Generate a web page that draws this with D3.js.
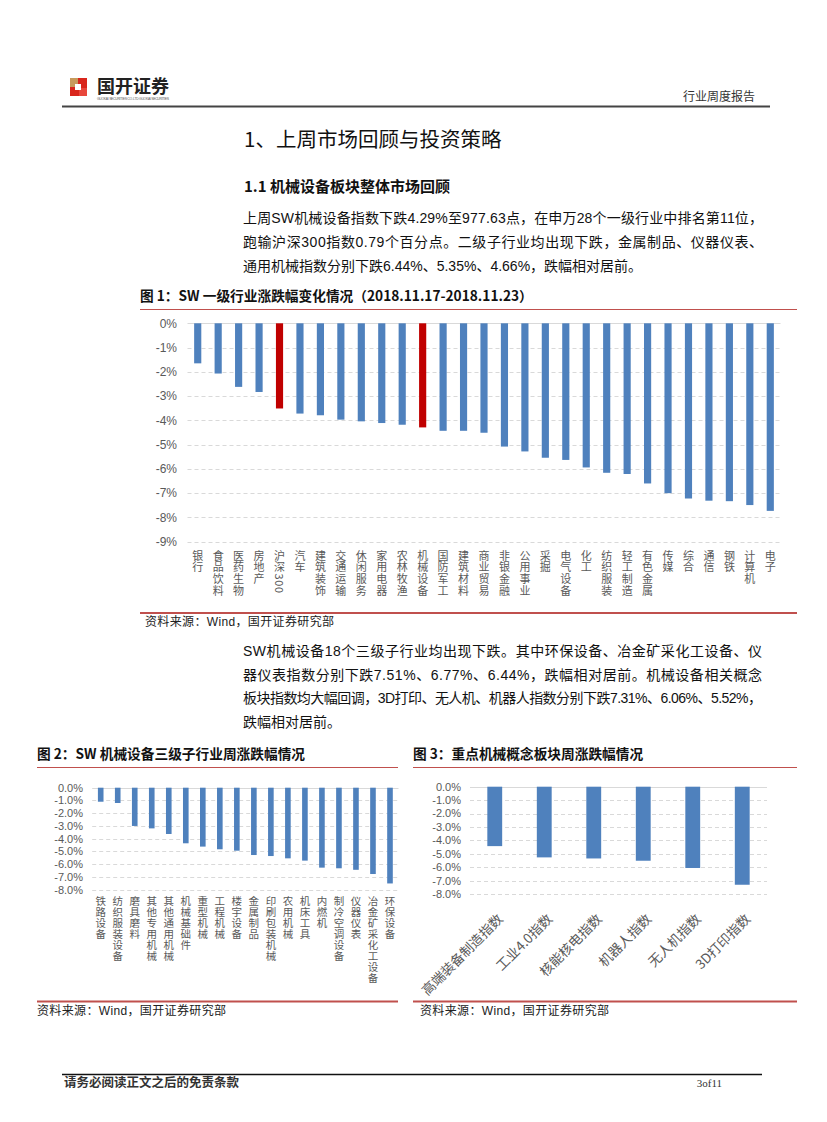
<!DOCTYPE html>
<html><head><meta charset="utf-8">
<script src="https://cdn.jsdelivr.net/npm/d3@7/dist/d3.min.js"></script>
<style>
body{margin:0;background:#fff;}
svg{display:block;}
</style></head>
<body>
<svg id="page" width="827" height="1122"></svg>
<script>
// ---- data ----
const cats1 = ["银行","食品饮料","医药生物","房地产","沪深300","汽车","建筑装饰","交通运输","休闲服务","家用电器","农林牧渔","机械设备","国防军工","建筑材料","商业贸易","非银金融","公用事业","采掘","电气设备","化工","纺织服装","轻工制造","有色金属","传媒","综合","通信","钢铁","计算机","电子"];
const vals1 = [-1.65,-2.07,-2.62,-2.83,-3.51,-3.72,-3.79,-3.97,-4.04,-4.11,-4.18,-4.29,-4.43,-4.43,-4.51,-5.08,-5.28,-5.54,-5.63,-5.94,-6.16,-6.21,-6.60,-7.00,-7.22,-7.31,-7.33,-7.49,-7.73];
const red1 = ["沪深300","机械设备"];
const ticks1 = [0,-1,-2,-3,-4,-5,-6,-7,-8,-9];

const cats2 = ["铁路设备","纺织服装设备","磨具磨料","其他专用机械","其他通用机械","机械基础件","重型机械","工程机械","楼宇设备","金属制品","印刷包装机械","农用机械","机床工具","内燃机","制冷空调设备","仪器仪表","冶金矿采化工设备","环保设备"];
const vals2 = [-1.10,-1.20,-3.00,-3.19,-3.63,-4.36,-4.62,-4.83,-4.94,-5.28,-5.36,-5.54,-5.72,-6.27,-6.32,-6.44,-6.77,-7.51];
const ticks2 = [0,-1,-2,-3,-4,-5,-6,-7,-8];

const cats3 = ["高端装备制造指数","工业4.0指数","核能核电指数","机器人指数","无人机指数","3D打印指数"];
const vals3 = [-4.43,-5.27,-5.35,-5.52,-6.06,-7.31];
const ticks3 = [0,-1,-2,-3,-4,-5,-6,-7,-8];

// ---- styles ----
const CJK = "'Noto Sans CJK SC', sans-serif";
const LAT = "'Liberation Sans', 'Noto Sans CJK SC', sans-serif";
const BLUE = "#4f81bd", RED = "#c00000", LINE_RED = "#c0504d", AX = "#595959";

const svg = d3.select("#page");

// ---- header ----
const logo = svg.append("g");
logo.append("rect").attr("x",70).attr("y",78).attr("width",17).attr("height",18).attr("fill","#d9261c");
logo.append("rect").attr("x",70).attr("y",78).attr("width",8).attr("height",9).attr("fill","#c79a5b");
logo.append("rect").attr("x",79).attr("y",88).attr("width",8).attr("height",8).attr("fill","#e8473c");
logo.append("rect").attr("x",75).attr("y",84).attr("width",6).attr("height",6).attr("fill","#fff");
svg.append("text").attr("x",97).attr("y",93).attr("font-family",CJK).attr("font-weight",700)
  .attr("font-size",18).attr("fill","#222").text("国开证券");
svg.append("text").attr("x",97).attr("y",99.5).attr("font-family",LAT).attr("font-size",3.4)
  .attr("fill","#555").attr("textLength",72).text("GUOKAI SECURITIES CO. LTD GUOKAI SECURITIES");
svg.append("text").attr("x",755).attr("y",101).attr("text-anchor","end").attr("font-family",CJK)
  .attr("font-size",12).attr("fill","#333").text("行业周度报告");
svg.append("line").attr("x1",62).attr("x2",770).attr("y1",106.5).attr("y2",106.5)
  .attr("stroke","#444").attr("stroke-width",2);

// ---- headings and paragraphs ----
svg.append("text").attr("x",244).attr("y",147).attr("font-family",CJK).attr("font-size",20.5)
  .attr("fill","#111").text("1、上周市场回顾与投资策略");
svg.append("text").attr("x",244).attr("y",192).attr("font-family",CJK).attr("font-size",15)
  .attr("font-weight",700).attr("fill","#111").text("1.1 机械设备板块整体市场回顾");

function para(lines, x, y0, lh, width){
  lines.forEach((t,i)=>{
    const tx = svg.append("text").attr("x",x).attr("y",y0+i*lh).attr("font-family",LAT)
      .attr("font-size",14).attr("fill","#111").text(t);
    if(i < lines.length-1){ tx.attr("textLength",width).attr("lengthAdjust","spacing"); }
  });
}
para(["上周SW机械设备指数下跌4.29%至977.63点，在申万28个一级行业中排名第11位，",
      "跑输沪深300指数0.79个百分点。二级子行业均出现下跌，金属制品、仪器仪表、",
      "通用机械指数分别下跌6.44%、5.35%、4.66%，跌幅相对居前。"], 243, 222.5, 24, 520);
para(["SW机械设备18个三级子行业均出现下跌。其中环保设备、冶金矿采化工设备、仪",
      "器仪表指数分别下跌7.51%、6.77%、6.44%，跌幅相对居前。机械设备相关概念",
      "板块指数均大幅回调，3D打印、无人机、机器人指数分别下跌7.31%、6.06%、5.52%，",
      "跌幅相对居前。"], 243, 656, 23.7, 519);

// ---- helpers ----
function titleBlock(x1, x2, y, title, bottomY, srcX){
  svg.append("text").attr("x",x1).attr("y",y).attr("font-family",CJK).attr("font-weight",700)
    .attr("font-size",13.7).attr("fill","#111").text(title);
  svg.append("line").attr("x1",x1).attr("x2",x2).attr("y1",y+8.5).attr("y2",y+8.5)
    .attr("stroke",LINE_RED).attr("stroke-width",1);
  svg.append("line").attr("x1",x1).attr("x2",x2).attr("y1",bottomY).attr("y2",bottomY)
    .attr("stroke",LINE_RED).attr("stroke-width",2);
  svg.append("text").attr("x",srcX).attr("y",bottomY+13).attr("font-family",LAT)
    .attr("font-size",12).attr("fill","#222").attr("textLength",189).attr("lengthAdjust","spacing")
    .text("资料来源：Wind，国开证券研究部");
}

function verticalLabel(g, label, cx, yTop, fs, ls){
  g.append("text").attr("x",cx).attr("y",yTop)
    .style("writing-mode","vertical-rl").style("text-orientation","mixed")
    .attr("font-family",CJK).attr("font-size",fs).attr("letter-spacing",ls)
    .attr("fill",AX).text(label);
}

function barChart(opt){
  const g = svg.append("g");
  const x = d3.scaleBand().domain(opt.cats).range([opt.x0,opt.x1])
    .paddingInner(opt.pad).paddingOuter(opt.pad/2);
  const y = d3.scaleLinear().domain([opt.min,0]).range([opt.yBot,opt.yTop]);
  g.selectAll(".grid").data(opt.ticks).join("line")
    .attr("x1",opt.x0).attr("x2",opt.x1)
    .attr("y1",d=>Math.round(y(d))+0.5).attr("y2",d=>Math.round(y(d))+0.5)
    .attr("stroke","#d9d9d9").attr("stroke-width",1)
    .attr("stroke-dasharray",d=>d===0?null:"4,3");
  g.selectAll(".tl").data(opt.ticks).join("text")
    .attr("x",opt.labelX).attr("y",d=>y(d)).attr("dy","0.36em").attr("text-anchor","end")
    .attr("font-family",LAT).attr("font-size",opt.tickFs).attr("fill",AX)
    .text(d=>opt.fmt(d));
  g.selectAll(".bar").data(opt.cats).join("rect")
    .attr("x",d=>x(d)).attr("width",x.bandwidth())
    .attr("y",y(0)).attr("height",(d,i)=>y(opt.vals[i])-y(0))
    .attr("fill",d=>opt.red && opt.red.includes(d)?RED:BLUE);
  return {g,x,y};
}

// ---- chart 1 ----
titleBlock(140, 797, 301, "图 1：SW 一级行业涨跌幅变化情况（2018.11.17-2018.11.23）", 613, 145);
const c1 = barChart({cats:cats1, vals:vals1, red:red1, ticks:ticks1, min:-9,
  x0:187.5, x1:780.5, yTop:323.3, yBot:541.7, pad:0.65, labelX:177, tickFs:12,
  fmt:d=>d+"%"});
cats1.forEach(c=>verticalLabel(c1.g, c, c1.x(c)+c1.x.bandwidth()/2, 550, 11, 0.7));

// ---- chart 2 ----
titleBlock(37, 398, 759, "图 2：SW 机械设备三级子行业周涨跌幅情况", 1001.5, 37);
const c2 = barChart({cats:cats2, vals:vals2, ticks:ticks2, min:-8,
  x0:92.2, x1:398.5, yTop:787.7, yBot:889.7, pad:0.67, labelX:83, tickFs:11,
  fmt:d=>d.toFixed(1)+"%"});
cats2.forEach(c=>verticalLabel(c2.g, c, c2.x(c)+c2.x.bandwidth()/2, 896, 10.5, 0.4));

// ---- chart 3 ----
titleBlock(413, 797, 759, "图 3：重点机械概念板块周涨跌幅情况", 1001.5, 420);
const c3 = barChart({cats:cats3, vals:vals3, ticks:ticks3, min:-8,
  x0:470, x1:767, yTop:786.7, yBot:894, pad:0.7, labelX:461, tickFs:11,
  fmt:d=>d.toFixed(1)+"%"});
c3.g.selectAll(".xl").data(cats3).join("text")
  .attr("transform",d=>`translate(${c3.x(d)+c3.x.bandwidth()/2+9},${920}) rotate(-45)`)
  .attr("text-anchor","end").attr("font-family",CJK).attr("font-size",13.5).attr("fill",AX)
  .text(d=>d);

// ---- footer ----
svg.append("line").attr("x1",62).attr("x2",762).attr("y1",1074.5).attr("y2",1074.5)
  .attr("stroke","#111").attr("stroke-width",1.5);
svg.append("text").attr("x",64).attr("y",1087).attr("font-family",CJK).attr("font-weight",700)
  .attr("font-size",12.5).attr("fill","#333").text("请务必阅读正文之后的免责条款");
svg.append("text").attr("x",722).attr("y",1087).attr("text-anchor","end").attr("font-family","'Liberation Serif', serif")
  .attr("font-size",11).attr("fill","#333").text("3of11");
</script>
</body></html>
